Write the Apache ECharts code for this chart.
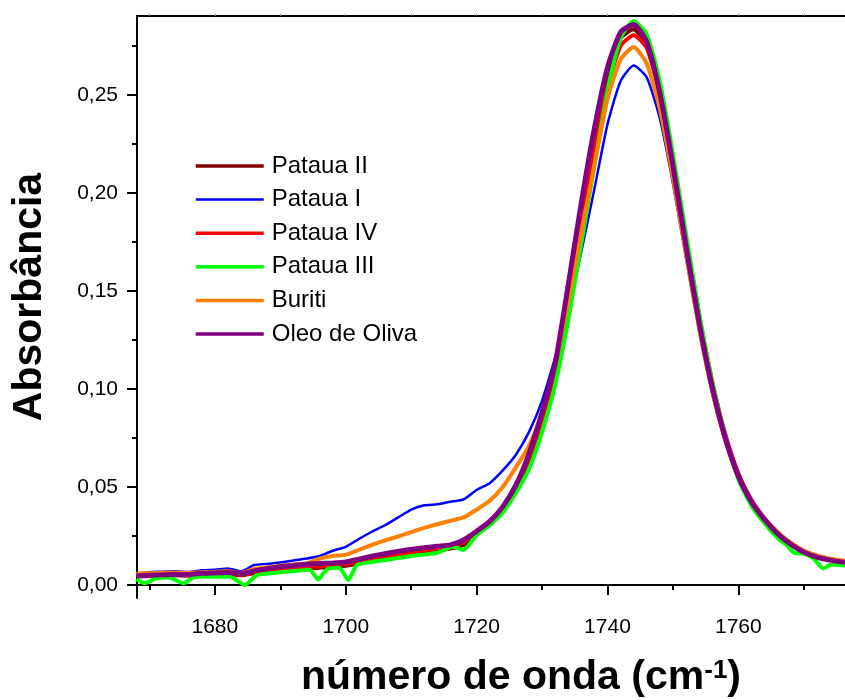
<!DOCTYPE html>
<html>
<head>
<meta charset="utf-8">
<script src="https://cdn.jsdelivr.net/npm/echarts@6/dist/echarts.min.js"></script>
<style>html,body{margin:0;padding:0;background:#fff}#c{width:845px;height:700px}</style>
</head>
<body>
<div id="c"></div>
<script>
// ---- data ----
const seriesNames = ['Pataua II', 'Pataua I', 'Pataua IV', 'Pataua III', 'Buriti', 'Oleo de Oliva'];
const xTicks = [1680, 1700, 1720, 1740, 1760];
const xMinorTicks = [1670, 1690, 1710, 1730, 1750, 1770];
const yTicks = [0, 0.05, 0.10, 0.15, 0.20, 0.25];
const yMinorTicks = [0.025, 0.075, 0.125, 0.175, 0.225, 0.275];

const wave = [1668,1670,1672,1674,1676,1678,1680,1682,1684,1686,1688,1690,1692,1694,1696,1698,1700,1702,1704,1706,1708,1710,1712,1714,1716,1718,1720,1722,1724,1726,1728,1730,1732,1734,1736,1738,1740,1742,1744,1746,1748,1750,1752,1754,1756,1758,1760,1762,1764,1766,1768,1770,1772,1774,1776,1778];

const patauaII = [0.0045,0.0046,0.0048,0.0050,0.0048,0.0050,0.0052,0.0054,0.0050,0.0060,0.0066,0.0072,0.0078,0.0084,0.0088,0.0094,0.0098,0.0110,0.0122,0.0134,0.0146,0.0156,0.0166,0.0176,0.0186,0.0205,0.0260,0.0310,0.0385,0.0490,0.0640,0.0850,0.1100,0.1480,0.1880,0.2260,0.2590,0.2790,0.2835,0.2750,0.2510,0.2150,0.1750,0.1360,0.1020,0.0755,0.0560,0.0425,0.0330,0.0260,0.0210,0.0170,0.0145,0.0128,0.0118,0.0110];

const patauaI = [0.0060,0.0066,0.0068,0.0071,0.0066,0.0075,0.0078,0.0085,0.0070,0.0102,0.0108,0.0115,0.0125,0.0135,0.0148,0.0175,0.0195,0.0235,0.0272,0.0305,0.0345,0.0385,0.0407,0.0412,0.0425,0.0437,0.0485,0.0520,0.0585,0.0665,0.0780,0.0940,0.1160,0.1400,0.1700,0.2020,0.2350,0.2570,0.2650,0.2590,0.2380,0.2050,0.1670,0.1300,0.0980,0.0730,0.0545,0.0415,0.0322,0.0252,0.0202,0.0165,0.0140,0.0125,0.0115,0.0110];

const patauaIV = [0.0048,0.0050,0.0052,0.0054,0.0052,0.0055,0.0057,0.0059,0.0054,0.0066,0.0072,0.0080,0.0086,0.0092,0.0096,0.0102,0.0108,0.0120,0.0133,0.0146,0.0158,0.0168,0.0178,0.0188,0.0198,0.0220,0.0270,0.0320,0.0395,0.0500,0.0650,0.0850,0.1090,0.1450,0.1840,0.2220,0.2540,0.2750,0.2805,0.2740,0.2510,0.2160,0.1770,0.1380,0.1040,0.0770,0.0570,0.0435,0.0340,0.0268,0.0215,0.0175,0.0150,0.0132,0.0122,0.0115];

const waveIII = [1668,1669.3,1671,1673,1675.2,1677,1680,1682.3,1684.6,1686.4,1689,1692.5,1694.5,1695.8,1697.1,1699,1700.4,1701.7,1704,1706,1708,1710,1712,1714,1716.4,1718,1720,1722,1724,1726,1728,1730,1732,1734,1736,1738,1740,1742,1744,1746,1748,1750,1752,1754,1756,1758,1760,1762,1764,1766,1767.5,1768.5,1770,1771.5,1773,1774.2,1776,1778];
const patauaIII = [0.0030,0.0009,0.0035,0.0038,0.0009,0.0042,0.0042,0.0042,0.0000,0.0051,0.0062,0.0073,0.0078,0.0029,0.0080,0.0088,0.0026,0.0102,0.0118,0.0128,0.0138,0.0148,0.0156,0.0165,0.0196,0.0179,0.0255,0.0305,0.0370,0.0470,0.0590,0.0780,0.1020,0.1350,0.1740,0.2140,0.2520,0.2790,0.2878,0.2810,0.2570,0.2200,0.1790,0.1390,0.1040,0.0760,0.0540,0.0405,0.0315,0.0240,0.0200,0.0165,0.0160,0.0135,0.0085,0.0105,0.0100,0.0098];

const buriti = [0.0058,0.0060,0.0062,0.0064,0.0062,0.0066,0.0068,0.0070,0.0062,0.0082,0.0090,0.0098,0.0105,0.0110,0.0135,0.0148,0.0155,0.0180,0.0205,0.0228,0.0248,0.0270,0.0292,0.0310,0.0328,0.0345,0.0385,0.0430,0.0500,0.0600,0.0710,0.0880,0.1120,0.1450,0.1800,0.2140,0.2480,0.2680,0.2745,0.2660,0.2430,0.2080,0.1690,0.1310,0.0990,0.0740,0.0555,0.0430,0.0340,0.0270,0.0215,0.0175,0.0150,0.0135,0.0125,0.0120];

const oleo = [0.0046,0.0050,0.0052,0.0055,0.0054,0.0060,0.0062,0.0064,0.0058,0.0072,0.0083,0.0094,0.0100,0.0106,0.0110,0.0113,0.0118,0.0132,0.0147,0.0160,0.0172,0.0182,0.0190,0.0198,0.0205,0.0230,0.0275,0.0325,0.0400,0.0510,0.0670,0.0880,0.1130,0.1530,0.1950,0.2330,0.2640,0.2820,0.2860,0.2770,0.2510,0.2140,0.1730,0.1340,0.1010,0.0750,0.0555,0.0425,0.0335,0.0262,0.0208,0.0168,0.0142,0.0127,0.0117,0.0110];

const colors = ['#800000', '#0000ff', '#ff0000', '#00ff00', '#ff8000', '#800080'];
const widths = [4, 2.5, 4, 4, 4, 5];
const legendWidths = [3.5, 2.5, 3.5, 3.5, 3.5, 3.5];

// ---- chart ----
const FONT = '"Liberation Sans", Arial, sans-serif';
const pairs = (xs, ys) => xs.map((x, i) => [x, ys[i]]);
const seriesData = [
  pairs(wave, patauaII),
  pairs(wave, patauaI),
  pairs(wave, patauaIV),
  pairs(waveIII, patauaIII),
  pairs(wave, buriti),
  pairs(wave, oleo)
];

const chart = echarts.init(document.getElementById('c'), null, {renderer: 'canvas'});
const XMIN = 1668.1, XMAX = 1776.3, YMIN = -0.0066, YMAX = 0.2903;
const axisLine = {show: true, lineStyle: {color: '#000', width: 2}};

chart.setOption({
  animation: false,
  backgroundColor: '#fff',
  grid: {left: 137, top: 16, right: 0, bottom: 102, containLabel: false},
  legend: {
    orient: 'vertical', left: 194, top: 153, padding: 0,
    itemWidth: 68, itemHeight: 10, itemGap: 7.6,
    data: seriesNames.map((n, i) => ({name: n, lineStyle: {width: legendWidths[i], color: colors[i]}})),
    itemStyle: {opacity: 0, borderWidth: 0},
    textStyle: {fontFamily: FONT, fontSize: 24, color: '#000', lineHeight: 26, padding: [0, 0, 0, 3]}
  },
  xAxis: [
    {type: 'value', position: 'bottom', min: XMIN, max: XMAX, axisLine: axisLine,
      axisTick: {show: true, customValues: xTicks, length: 10, lineStyle: {color: '#000', width: 2}},
      axisLabel: {show: true, customValues: xTicks, margin: 19, fontSize: 21, fontFamily: FONT, color: '#000',
        formatter: v => String(Math.round(v))},
      splitLine: {show: false}},
    {type: 'value', position: 'bottom', min: XMIN, max: XMAX, axisLine: {show: false},
      axisTick: {show: true, customValues: xMinorTicks, length: 5, lineStyle: {color: '#000', width: 2}},
      axisLabel: {show: false}, splitLine: {show: false}},
    {type: 'value', position: 'top', min: XMIN, max: XMAX, axisLine: axisLine,
      axisTick: {show: true, customValues: xMinorTicks.concat(xTicks), length: 2, lineStyle: {color: '#888', width: 1}},
      axisLabel: {show: false}, splitLine: {show: false}}
  ],
  yAxis: [
    {type: 'value', position: 'left', min: YMIN, max: YMAX, axisLine: axisLine,
      axisTick: {show: true, customValues: yTicks, length: 10, lineStyle: {color: '#000', width: 2}},
      axisLabel: {show: true, customValues: yTicks, margin: 19, fontSize: 21, fontFamily: FONT, color: '#000',
        formatter: v => v.toFixed(2).replace('.', ',')},
      splitLine: {show: false}},
    {type: 'value', position: 'left', min: YMIN, max: YMAX, axisLine: {show: false},
      axisTick: {show: true, customValues: yMinorTicks, length: 5, lineStyle: {color: '#000', width: 2}},
      axisLabel: {show: false}, splitLine: {show: false}}
  ],
  graphic: [
    {type: 'text', x: 521, y: 678, z: 10,
      style: {text: '{a|número de onda (cm}{s|-1}{a|)}', textAlign: 'center', textVerticalAlign: 'middle', fill: '#000',
        rich: {
          a: {fontSize: 41, fontWeight: 'bold', fontFamily: FONT, fill: '#000', color: '#000'},
          s: {fontSize: 26, fontWeight: 'bold', fontFamily: FONT, fill: '#000', color: '#000', verticalAlign: 'top'}
        }}},
    {type: 'text', x: 30, y: 297, rotation: Math.PI / 2, z: 10,
      style: {text: 'Absorbância', textAlign: 'center', textVerticalAlign: 'middle', fill: '#000',
        font: 'bold 41px ' + FONT}}
  ],
  series: seriesNames.map((name, i) => ({
    name: name, type: 'line', xAxisIndex: 0, yAxisIndex: 0,
    data: seriesData[i], symbol: 'none', smooth: 0.2,
    lineStyle: {color: colors[i], width: widths[i]},
    itemStyle: {color: colors[i]},
    z: 2 + i
  }))
});
</script>
</body>
</html>
